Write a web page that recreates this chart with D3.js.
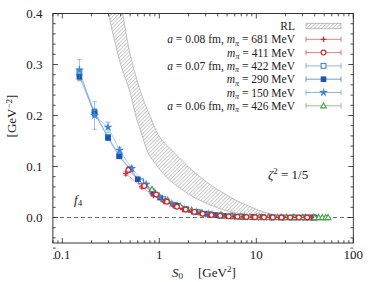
<!DOCTYPE html>
<html>
<head>
<meta charset="utf-8">
<script src="https://cdn.jsdelivr.net/npm/d3@7"></script>
<style>
  html, body { margin: 0; padding: 0; background: #fff; }
  svg text { font-family: "Liberation Serif", "Times New Roman", serif; fill: #222; }
</style>
</head>
<body>
<svg id="chart" width="374" height="282"></svg>
<script>
// RL band (hatched), upper and lower edges as [S0, value]
const rlUpper = [
  [0.40, 0.42], [0.42, 0.40], [0.50, 0.32], [0.67, 0.236], [0.84, 0.19],
  [0.97, 0.163], [1.2, 0.141], [1.46, 0.125], [2.17, 0.093], [3.0, 0.071],
  [4.0, 0.055], [6.0, 0.035], [8.0, 0.024], [11, 0.013], [15, 0.006], [20, 0.002]
];
const rlLower = [
  [0.29, 0.42], [0.30, 0.40], [0.40, 0.30], [0.50, 0.245], [0.58, 0.195],
  [0.69, 0.152], [0.75, 0.13], [0.85, 0.113], [1.0, 0.095], [1.3, 0.072],
  [1.6, 0.059], [2.0, 0.046], [2.6, 0.034], [3.5, 0.023], [5, 0.013],
  [7, 0.007], [10, 0.003], [14, 0.001], [20, 0.0]
];

// lattice data: [S0, f4, error]
const a08m681 = [
  [0.45, 0.086, 0.004], [0.66, 0.060, 0.003], [0.87, 0.043, 0.002], [1.12, 0.031, 0.0015],
  [1.42, 0.022, 0.001], [1.75, 0.016, 0.001], [2.15, 0.0115, 0.0008], [2.65, 0.008, 0.0006],
  [3.25, 0.0055, 0.0005], [4.0, 0.0038, 0.0004], [4.9, 0.0026, 0.0003], [6.0, 0.0017, 0.0003],
  [7.4, 0.0011, 0.0002], [9.1, 0.0007, 0.0002], [11.2, 0.0004, 0.0002], [13.8, 0.0002, 0.0001],
  [17.0, 0.0001, 0.0001], [21.0, 0.0, 0.0001], [26.0, 0.0, 0.0001], [32.0, 0.0, 0.0001],
  [37.0, 0.0, 0.0001]
];
const a08m411 = [
  [0.48, 0.093, 0.005], [0.70, 0.062, 0.003], [0.93, 0.045, 0.002], [1.2, 0.031, 0.0015],
  [1.52, 0.021, 0.001], [1.87, 0.0155, 0.001], [2.3, 0.011, 0.0008], [2.8, 0.0075, 0.0006],
  [3.45, 0.005, 0.0005], [4.25, 0.0034, 0.0004], [5.2, 0.0023, 0.0003], [6.4, 0.0015, 0.0003],
  [7.9, 0.001, 0.0002], [9.7, 0.0006, 0.0002], [12.0, 0.0003, 0.0001], [14.8, 0.0002, 0.0001],
  [18.2, 0.0001, 0.0001], [22.4, 0.0, 0.0001], [27.5, 0.0, 0.0001], [33.5, 0.0, 0.0001]
];
const a07m422 = [
  [0.15, 0.283, 0.008], [0.215, 0.207, 0.007], [0.296, 0.158, 0.005], [0.39, 0.122, 0.004],
  [0.5, 0.095, 0.003], [0.65, 0.071, 0.002], [0.85, 0.051, 0.0015], [1.1, 0.036, 0.001],
  [1.45, 0.025, 0.001], [1.9, 0.016, 0.0008], [2.5, 0.0105, 0.0006], [3.2, 0.0068, 0.0005],
  [4.2, 0.0043, 0.0004], [5.4, 0.0027, 0.0003], [7.0, 0.0016, 0.0003], [9.0, 0.001, 0.0002],
  [11.6, 0.0005, 0.0002], [15.0, 0.0003, 0.0001], [19.4, 0.0001, 0.0001], [25.0, 0.0, 0.0001],
  [32.0, 0.0, 0.0001], [39.0, 0.0, 0.0001]
];
const a07m290 = [
  [0.15, 0.276, 0.006], [0.215, 0.204, 0.006], [0.296, 0.156, 0.004], [0.385, 0.12, 0.003],
  [0.6, 0.075, 0.002], [0.87, 0.048, 0.0015], [1.02, 0.039, 0.0012], [1.18, 0.032, 0.001],
  [1.52, 0.023, 0.001], [1.87, 0.016, 0.0008], [2.35, 0.011, 0.0006], [2.95, 0.0075, 0.0005],
  [3.7, 0.005, 0.0004], [4.6, 0.0033, 0.0003], [5.8, 0.0021, 0.0003], [7.3, 0.0013, 0.0002],
  [9.2, 0.0008, 0.0002], [11.5, 0.0005, 0.0002], [14.5, 0.0003, 0.0001], [18.3, 0.0001, 0.0001],
  [23.0, 0.0, 0.0001], [29.0, 0.0, 0.0001], [36.0, 0.0, 0.0001], [40.0, 0.0, 0.0001]
];
const a07m150 = [
  [0.15, 0.289, 0.021], [0.215, 0.2, 0.027], [0.296, 0.177, 0.01], [0.39, 0.132, 0.006],
  [0.52, 0.096, 0.005], [0.73, 0.065, 0.004], [1.0, 0.041, 0.003], [1.35, 0.027, 0.002],
  [1.8, 0.017, 0.0015], [2.4, 0.011, 0.001], [3.2, 0.0068, 0.0008], [4.3, 0.0042, 0.0006],
  [5.7, 0.0025, 0.0005], [7.6, 0.0014, 0.0004], [10, 0.0008, 0.0003], [13.5, 0.0004, 0.0002],
  [18, 0.0002, 0.0002], [24, 0.0, 0.0001], [32, 0.0, 0.0001], [39, 0.0, 0.0001]
];
const a06m426 = [
  [0.84, 0.055, 0.003], [1.22, 0.034, 0.002], [1.65, 0.022, 0.0015], [2.15, 0.0145, 0.001],
  [2.75, 0.0097, 0.0008], [3.5, 0.0065, 0.0006], [4.4, 0.0044, 0.0005], [5.5, 0.003, 0.0004],
  [6.9, 0.002, 0.0004], [8.6, 0.0013, 0.0003], [10.7, 0.0009, 0.0003], [13.3, 0.0006, 0.0003],
  [16.5, 0.0004, 0.0003], [20.5, 0.0003, 0.0003], [25.0, 0.0002, 0.0003], [30.0, 0.0001, 0.0002],
  [35.0, 0.0, 0.0002], [40.0, 0.0, 0.0002], [44.0, 0.0, 0.0002], [48.0, 0.0, 0.0002],
  [52.0, 0.0, 0.0002], [55.0, 0.0, 0.0002]
];

const xMajorTicks = [0.1, 1, 10, 100];
const xTickLabels = ["0.1", "1", "10", "100"];
const yMajorTicks = [0.0, 0.1, 0.2, 0.3, 0.4];
const yTickLabels = ["0.0", "0.1", "0.2", "0.3", "0.4"];

// series settings (legend order)
const series = [
  { data: a08m681, marker: "plus",   color: "#cf2a2e", a: "0.08", m: "681" },
  { data: a08m411, marker: "circle", color: "#cf2a2e", a: null,   m: "411" },
  { data: a07m422, marker: "osq",    color: "#3f88d6", a: "0.07", m: "422" },
  { data: a07m290, marker: "fsq",    color: "#1558b0", a: null,   m: "290" },
  { data: a07m150, marker: "star",   color: "#3f88d6", a: null,   m: "150" },
  { data: a06m426, marker: "tri",    color: "#46a046", a: "0.06", m: "426" }
];
const drawOrder = [2, 3, 4, 5, 0, 1];

const svg = d3.select("#chart");
const L = 52.9, R = 353.3, T = 13.5, B = 243;

const x = d3.scaleLog().domain([0.08, 100]).range([L, R]);
const y = d3.scaleLinear().domain([-0.05, 0.4]).range([B, T]);

const defs = svg.append("defs");
defs.append("clipPath").attr("id", "plotClip")
  .append("rect").attr("x", L).attr("y", T).attr("width", R - L).attr("height", B - T);
defs.append("pattern")
  .attr("id", "hatch")
  .attr("patternUnits", "userSpaceOnUse")
  .attr("width", 2.6).attr("height", 2.6)
  .attr("patternTransform", "rotate(45)")
  .append("line")
  .attr("x1", 0).attr("y1", 0).attr("x2", 0).attr("y2", 2.6)
  .attr("stroke", "#8a8a8a").attr("stroke-width", 0.9);

const plot = svg.append("g").attr("clip-path", "url(#plotClip)");

// RL band
const edge = d3.line().x(d => x(d[0])).y(d => y(d[1])).curve(d3.curveCatmullRom);
const bandPath = edge(rlUpper) + "L" + edge(rlLower.slice().reverse()).slice(1) + "Z";
plot.append("path")
  .attr("d", bandPath)
  .attr("fill", "url(#hatch)")
  .attr("stroke", "#9a9a9a")
  .attr("stroke-width", 0.6);

// zero line
plot.append("line")
  .attr("x1", L).attr("x2", R).attr("y1", y(0)).attr("y2", y(0))
  .attr("stroke", "#444").attr("stroke-width", 0.8)
  .attr("stroke-dasharray", "4,3");

function drawMarker(g, type, color) {
  if (type === "plus") {
    g.append("path").attr("d", "M-2.8,0H2.8M0,-2.8V2.8")
      .attr("stroke", color).attr("stroke-width", 1.3).attr("fill", "none");
  } else if (type === "circle") {
    g.append("circle").attr("r", 2.4)
      .attr("fill", "#fff").attr("stroke", color).attr("stroke-width", 1.2);
  } else if (type === "osq") {
    g.append("rect").attr("x", -2.4).attr("y", -2.4).attr("width", 4.8).attr("height", 4.8)
      .attr("fill", "#fff").attr("stroke", color).attr("stroke-width", 1.1);
  } else if (type === "fsq") {
    g.append("rect").attr("x", -2.8).attr("y", -2.8).attr("width", 5.6).attr("height", 5.6)
      .attr("fill", color);
  } else if (type === "star") {
    g.append("path").attr("d", d3.symbol().type(d3.symbolStar).size(26)())
      .attr("fill", color);
  } else if (type === "tri") {
    g.append("path").attr("d", "M0,-3L2.8,2.1L-2.8,2.1Z")
      .attr("fill", "#fff").attr("stroke", color).attr("stroke-width", 1.1);
  }
}

const connect = d3.line().x(d => x(d[0])).y(d => y(d[1]));

drawOrder.forEach(i => {
  const s = series[i];
  const g = plot.append("g");
  g.append("path")
    .attr("d", connect(s.data))
    .attr("fill", "none").attr("stroke", s.color)
    .attr("stroke-width", 0.7).attr("stroke-opacity", 0.6);
  // error bars
  const eb = g.selectAll("g.eb").data(s.data).join("g")
    .attr("stroke", s.color).attr("stroke-opacity", 0.6).attr("stroke-width", 0.9);
  eb.append("line")
    .attr("x1", d => x(d[0])).attr("x2", d => x(d[0]))
    .attr("y1", d => y(d[1] - d[2])).attr("y2", d => y(d[1] + d[2]));
  eb.append("line")
    .attr("x1", d => x(d[0]) - 2.3).attr("x2", d => x(d[0]) + 2.3)
    .attr("y1", d => y(d[1] - d[2])).attr("y2", d => y(d[1] - d[2]));
  eb.append("line")
    .attr("x1", d => x(d[0]) - 2.3).attr("x2", d => x(d[0]) + 2.3)
    .attr("y1", d => y(d[1] + d[2])).attr("y2", d => y(d[1] + d[2]));
  s.data.forEach(d => {
    const mg = g.append("g").attr("transform", `translate(${x(d[0])},${y(d[1])})`);
    drawMarker(mg, s.marker, s.color);
  });
});

// frame and ticks
const axisColor = "#222";
svg.append("rect")
  .attr("x", L).attr("y", T).attr("width", R - L).attr("height", B - T)
  .attr("fill", "none").attr("stroke", axisColor).attr("stroke-width", 0.9);

const xMinor = [];
[0.01, 0.1, 1, 10].forEach(dec => {
  for (let k = 2; k <= 9; k++) {
    const v = dec * k;
    if (v >= 0.08 && v < 100) xMinor.push(v);
  }
});
const yMinor = d3.range(-4, 20).map(k => k * 0.02).filter(v => Math.abs(v * 10 - Math.round(v * 10)) > 1e-6);

const tickG = svg.append("g").attr("stroke", axisColor).attr("stroke-width", 0.8);
xMajorTicks.forEach(v => {
  tickG.append("line").attr("x1", x(v)).attr("x2", x(v)).attr("y1", B).attr("y2", B - 5);
  tickG.append("line").attr("x1", x(v)).attr("x2", x(v)).attr("y1", T).attr("y2", T + 5);
});
xMinor.forEach(v => {
  tickG.append("line").attr("x1", x(v)).attr("x2", x(v)).attr("y1", B).attr("y2", B - 2.8);
  tickG.append("line").attr("x1", x(v)).attr("x2", x(v)).attr("y1", T).attr("y2", T + 2.8);
});
yMajorTicks.forEach(v => {
  tickG.append("line").attr("x1", L).attr("x2", L + 5).attr("y1", y(v)).attr("y2", y(v));
  tickG.append("line").attr("x1", R).attr("x2", R - 5).attr("y1", y(v)).attr("y2", y(v));
});
yMinor.forEach(v => {
  tickG.append("line").attr("x1", L).attr("x2", L + 2.8).attr("y1", y(v)).attr("y2", y(v));
  tickG.append("line").attr("x1", R).attr("x2", R - 2.8).attr("y1", y(v)).attr("y2", y(v));
});

const fs = 13;
const sub = 9;
svg.selectAll("text.xt").data(xMajorTicks).join("text")
  .attr("x", d => x(d)).attr("y", 258.5)
  .attr("text-anchor", "middle").attr("font-size", fs)
  .text((d, i) => xTickLabels[i]);
svg.selectAll("text.yt").data(yMajorTicks).join("text")
  .attr("x", 42.5).attr("y", d => y(d) + 4.5)
  .attr("text-anchor", "end").attr("font-size", fs)
  .text((d, i) => yTickLabels[i]);

// axis labels
const yl = svg.append("text")
  .attr("transform", "translate(16,116) rotate(-90)")
  .attr("text-anchor", "middle").attr("font-size", fs);
yl.append("tspan").text("[GeV");
yl.append("tspan").attr("dy", -4.5).attr("font-size", sub).text("\u22122");
yl.append("tspan").attr("dy", 4.5).text("]");

const xl = svg.append("text").attr("x", 172).attr("y", 276.5).attr("font-size", fs);
xl.append("tspan").attr("font-style", "italic").text("S");
xl.append("tspan").attr("dy", 2.5).attr("font-size", sub).text("0");
xl.append("tspan").attr("dy", -2.5).attr("x", 198).text("[GeV");
xl.append("tspan").attr("dy", -4.5).attr("font-size", sub).text("2");
xl.append("tspan").attr("dy", 4.5).text("]");

const f4 = svg.append("text").attr("x", 74).attr("y", 203.5).attr("font-size", fs);
f4.append("tspan").attr("font-style", "italic").text("f");
f4.append("tspan").attr("dy", 2.5).attr("font-size", sub).text("4");

const zt = svg.append("text").attr("x", 268).attr("y", 178.5).attr("font-size", fs);
zt.append("tspan").attr("font-style", "italic").text("\u03b6");
zt.append("tspan").attr("dy", -4.5).attr("font-size", sub).text("2");
zt.append("tspan").attr("dy", 4.5).text(" = 1/5");

// legend
const legX = 295, sx0 = 306, sx1 = 341, row0 = 26, rowH = 13.3;
const legFs = 11.5;
const rl = svg.append("g");
rl.append("text").attr("x", legX).attr("y", row0 + 4).attr("text-anchor", "end")
  .attr("font-size", legFs).text("RL");
rl.append("rect").attr("x", sx0).attr("y", row0 - 2.8).attr("width", sx1 - sx0).attr("height", 5.6)
  .attr("fill", "url(#hatch)").attr("stroke", "#9a9a9a").attr("stroke-width", 0.6);

series.forEach((s, i) => {
  const ry = row0 + rowH * (i + 1);
  const t = svg.append("text").attr("x", legX).attr("y", ry + 4)
    .attr("text-anchor", "end").attr("font-size", legFs);
  if (s.a) {
    t.append("tspan").attr("font-style", "italic").text("a");
    t.append("tspan").text(" = " + s.a + " fm, ");
  }
  t.append("tspan").attr("font-style", "italic").text("m");
  t.append("tspan").attr("dy", 2.5).attr("font-size", 8).attr("font-style", "italic").text("\u03c0");
  t.append("tspan").attr("dy", -2.5).text(" = " + s.m + " MeV");

  const lg = svg.append("g").attr("stroke", s.color).attr("stroke-opacity", 0.6).attr("stroke-width", 1);
  lg.append("line").attr("x1", sx0).attr("x2", sx1).attr("y1", ry).attr("y2", ry);
  lg.append("line").attr("x1", sx0).attr("x2", sx0).attr("y1", ry - 2.8).attr("y2", ry + 2.8);
  lg.append("line").attr("x1", sx1).attr("x2", sx1).attr("y1", ry - 2.8).attr("y2", ry + 2.8);
  const mg = svg.append("g").attr("transform", `translate(${(sx0 + sx1) / 2},${ry})`);
  drawMarker(mg, s.marker, s.color);
});
</script>
</body>
</html>
